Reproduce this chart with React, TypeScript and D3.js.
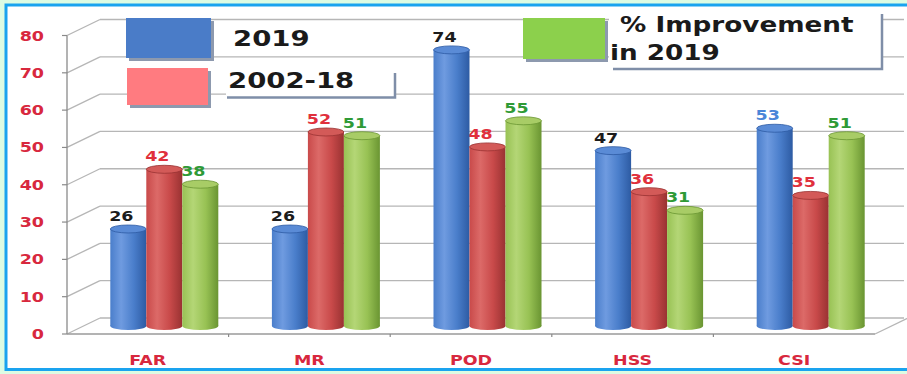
import React from "react";
import * as d3 from "d3";

// Chart data
const categories = ["FAR", "MR", "POD", "HSS", "CSI"];
const values2019 = [26, 26, 74, 47, 53];
const values2002to18 = [42, 52, 48, 36, 35];
const improvement2019 = [38, 51, 55, 31, 51];
const yTicks = [0, 10, 20, 30, 40, 50, 60, 70, 80];
const seriesKeys = ["s2019", "s2002", "sImp"];

const W = 907;
const H = 374;

// 3D box geometry
const FRONT_LEFT = 67;
const FRONT_RIGHT = 875;
const BACK_RIGHT = 904;
const DX = 33; // depth offset
const DY = -16;
const BAR_W = 36;
const RY = 4;
const STRETCH = 1.25;
const FONT = "'DejaVu Sans', Verdana, sans-serif";

const x = d3.scaleBand<string>().domain(categories).range([FRONT_LEFT, FRONT_RIGHT]);
const y = d3.scaleLinear().domain([0, 80]).range([334, 35.5]);
const sx = d3
  .scaleBand<string>()
  .domain(seriesKeys)
  .range([-(BAR_W * 3) / 2, (BAR_W * 3) / 2]);

const RED_TEXT = "#d8283e";

const seriesStyles = [
  { key: "s2019", values: values2019, dark: "#2d5ba3", base: "#4a7ecb", light: "#6f9be0", top: "#5a8bd6" },
  { key: "s2002", values: values2002to18, dark: "#993232", base: "#c94a4a", light: "#dc6a68", top: "#d35a58" },
  { key: "sImp", values: improvement2019, dark: "#6a9532", base: "#98c254", light: "#b4d676", top: "#a8cc66" },
];

const labelColor = (series: number, i: number) => {
  if (series === 0) return i === 4 ? "#4a86d8" : "#1c1c1c";
  if (series === 1) return "#e0303c";
  return "#2f9a36";
};

type TxtProps = {
  x: number;
  y: number;
  size: number;
  fill: string;
  anchor?: "start" | "middle" | "end";
  children: React.ReactNode;
};

// Wide bold text, stretched horizontally
const Txt = ({ x: tx, y: ty, size, fill, anchor = "start", children }: TxtProps) => (
  <text
    transform={`translate(${tx},${ty}) scale(${STRETCH},1)`}
    fontFamily={FONT}
    fontWeight="bold"
    fontSize={size}
    fill={fill}
    textAnchor={anchor}
  >
    {children}
  </text>
);

const Cylinder = ({ cx, v, s }: { cx: number; v: number; s: (typeof seriesStyles)[number] }) => {
  const top = y(v) + DY / 2;
  const bot = y(0) + DY / 2;
  const x0 = cx - BAR_W / 2;
  return (
    <g>
      <ellipse cx={cx} cy={bot} rx={BAR_W / 2} ry={RY} fill={`url(#grad-${s.key})`} />
      <rect x={x0} y={top} width={BAR_W} height={bot - top} fill={`url(#grad-${s.key})`} />
      <ellipse cx={cx} cy={top} rx={BAR_W / 2} ry={RY} fill={s.top} stroke={s.dark} strokeWidth={0.8} />
    </g>
  );
};

export default function App() {
  const gridColor = "#b6b6b6";
  return (
    <div style={{ position: "absolute", left: 0, top: 0 }}>
      <svg width={W} height={H} style={{ display: "block" }}>
        <defs>
          {seriesStyles.map((s) => (
            <linearGradient key={s.key} id={`grad-${s.key}`} x1="0" x2="1" y1="0" y2="0">
              <stop offset="0%" stopColor={s.base} />
              <stop offset="30%" stopColor={s.light} />
              <stop offset="65%" stopColor={s.base} />
              <stop offset="100%" stopColor={s.dark} />
            </linearGradient>
          ))}
        </defs>

        {/* page and panel */}
        <rect x={0} y={0} width={W} height={H} fill="#ddfce3" />
        <rect x={6} y={5} width={W + 10} height={364.5} fill="#ffffff" stroke="#1aa3ef" strokeWidth={3} />

        {/* back wall gridlines, side diagonals and axis */}
        {yTicks.map((t) => (
          <g key={t}>
            <line x1={FRONT_LEFT + DX} x2={BACK_RIGHT} y1={y(t) + DY} y2={y(t) + DY} stroke={gridColor} strokeWidth={1.3} />
            <line x1={FRONT_LEFT} x2={FRONT_LEFT + DX} y1={y(t)} y2={y(t) + DY} stroke={gridColor} strokeWidth={1.3} />
            <line x1={FRONT_LEFT - 5} x2={FRONT_LEFT} y1={y(t)} y2={y(t)} stroke="#8a8a8a" strokeWidth={1.2} />
            <Txt x={44} y={y(t) + 5} size={14} fill={RED_TEXT} anchor="end">
              {t}
            </Txt>
          </g>
        ))}
        <line x1={FRONT_LEFT} x2={FRONT_LEFT} y1={y(80)} y2={y(0)} stroke="#8a8a8a" strokeWidth={1.3} />

        {/* floor */}
        <line x1={FRONT_LEFT} x2={FRONT_RIGHT} y1={y(0)} y2={y(0)} stroke="#9a9a9a" strokeWidth={1.3} />
        <line x1={FRONT_RIGHT} x2={FRONT_RIGHT + DX} y1={y(0)} y2={y(0) + DY} stroke={gridColor} strokeWidth={1.3} />
        {categories.slice(1).map((c) => (
          <line key={c} x1={x(c)!} x2={x(c)!} y1={y(0)} y2={y(0) + 3} stroke="#8a8a8a" strokeWidth={1.2} />
        ))}

        {/* category labels */}
        {categories.map((c) => (
          <Txt key={c} x={x(c)! + x.bandwidth() / 2} y={365} size={14} fill={RED_TEXT} anchor="middle">
            {c}
          </Txt>
        ))}

        {/* value labels sit behind the cylinders */}
        {seriesStyles.map((s, j) =>
          categories.map((c, i) => {
            const cx = x(c)! + x.bandwidth() / 2 + DX / 2 + sx(s.key)! + BAR_W / 2;
            return (
              <Txt key={s.key + c} x={cx - 7} y={y(s.values[i]) + DY / 2 - 8} size={14} fill={labelColor(j, i)} anchor="middle">
                {s.values[i]}
              </Txt>
            );
          })
        )}

        {/* cylinders */}
        {categories.map((c, i) => (
          <g key={c}>
            {seriesStyles.map((s) => (
              <Cylinder key={s.key} cx={x(c)! + x.bandwidth() / 2 + DX / 2 + sx(s.key)! + BAR_W / 2} v={s.values[i]} s={s} />
            ))}
          </g>
        ))}

        {/* legend */}
        <g>
          <rect x={129} y={21} width={85} height={40} fill="#8d99ae" />
          <rect x={126} y={18} width={85} height={40} fill="#4a7cc8" />
          <Txt x={233} y={46} size={22} fill="#1a1a1a">
            2019
          </Txt>

          <rect x={130} y={71} width={81} height={37} fill="#8d99ae" />
          <rect x={127} y={68} width={81} height={37} fill="#ff7b80" />
          <rect x={226} y={66} width={169} height={31} fill="#ffffff" />
          <polyline points="227,97.5 395,97.5 395,73" fill="none" stroke="#7f8ea8" strokeWidth={2.5} />
          <Txt x={228} y={88} size={22} fill="#1a1a1a">
            2002-18
          </Txt>

          <rect x={526} y={21} width={82} height={41} fill="#8d99ae" />
          <rect x={523} y={18} width={82} height={41} fill="#8cd04c" />
          <rect x={609} y={13} width={273} height={56} fill="#ffffff" />
          <polyline points="613,69 882,69 882,14" fill="none" stroke="#7f8ea8" strokeWidth={2.5} />
          <Txt x={620} y={32} size={21} fill="#1a1a1a">
            % Improvement
          </Txt>
          <Txt x={610} y={60} size={21} fill="#1a1a1a">
            in 2019
          </Txt>
        </g>
      </svg>
    </div>
  );
}
